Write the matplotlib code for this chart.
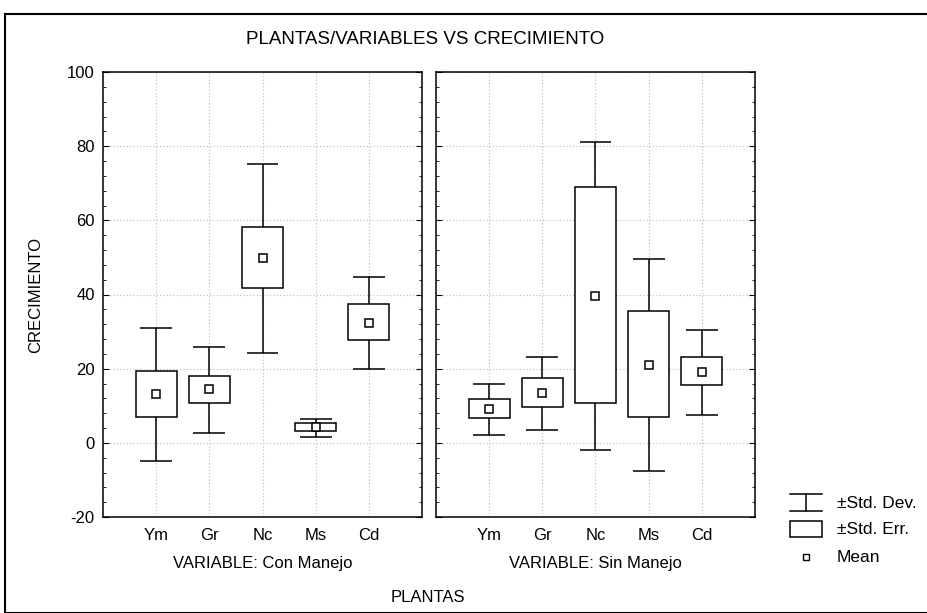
import matplotlib
matplotlib.use('Agg')
import matplotlib.pyplot as plt
from matplotlib.lines import Line2D
from matplotlib.patches import Rectangle

plt.rcParams['font.family'] = ['Liberation Sans', 'DejaVu Sans']
plt.rcParams['axes.unicode_minus'] = False

plantas = ['Ym', 'Gr', 'Nc', 'Ms', 'Cd']
variables = ['VARIABLE: Con Manejo', 'VARIABLE: Sin Manejo']

# media, +-error estandar, +-desviacion estandar
media_con = [13.1, 14.4, 49.8, 4.2, 32.4]
se_lo_con = [6.9, 10.7, 41.7, 3.1, 27.7]
se_hi_con = [19.4, 18.0, 58.3, 5.4, 37.5]
sd_lo_con = [-5.0, 2.6, 24.1, 1.7, 20.0]
sd_hi_con = [30.9, 25.8, 75.2, 6.4, 44.8]

media_sin = [9.0, 13.4, 39.6, 20.9, 19.1]
se_lo_sin = [6.6, 9.7, 10.7, 6.9, 15.5]
se_hi_sin = [11.9, 17.4, 69.1, 35.5, 23.1]
sd_lo_sin = [2.2, 3.5, -1.9, -7.7, 7.5]
sd_hi_sin = [15.8, 23.1, 81.2, 49.5, 30.5]

W, H = 928, 613
fig = plt.figure(figsize=(W / 100, H / 100), dpi=100)

# marco exterior
fig.patches.append(Rectangle((5 / W, 0), 1, (H - 14) / H, transform=fig.transFigure,
                             fill=False, edgecolor='black', linewidth=1.5))

paneles = [
    (103, variables[0], media_con, se_lo_con, se_hi_con, sd_lo_con, sd_hi_con),
    (436, variables[1], media_sin, se_lo_sin, se_hi_sin, sd_lo_sin, sd_hi_sin),
]
x = list(range(1, len(plantas) + 1))
axes = []
for left, nombre, media, se_lo, se_hi, sd_lo, sd_hi in paneles:
    ax = fig.add_axes([left / W, (H - 517) / H, 319 / W, 445 / H])
    axes.append(ax)
    ax.vlines(x, sd_lo, sd_hi, color='black', linewidth=1.1, zorder=2)
    ax.hlines(sd_lo, [v - 0.3 for v in x], [v + 0.3 for v in x], color='black', linewidth=1.1, zorder=2)
    ax.hlines(sd_hi, [v - 0.3 for v in x], [v + 0.3 for v in x], color='black', linewidth=1.1, zorder=2)
    ax.bar(x, [h - l for l, h in zip(se_lo, se_hi)], bottom=se_lo, width=0.77,
           facecolor='white', edgecolor='black', linewidth=1.1, zorder=3)
    ax.plot(x, media, linestyle='none', marker='s', markersize=6, markerfacecolor='white',
            markeredgecolor='black', markeredgewidth=1.1, zorder=4)
    ax.set_xlim(0, 6)
    ax.set_ylim(-20, 100)
    ax.set_xticks(x)
    ax.set_xticklabels(plantas, fontsize=12)
    ax.set_yticks(range(-20, 101, 20))
    ax.set_yticks(range(-20, 101, 4), minor=True)
    ax.grid(True, which='major', linestyle=(0, (1, 2)), color='#bbbbbb', linewidth=0.8)
    ax.tick_params(which='both', direction='in', left=True, right=True, top=False, bottom=False,
                   labelsize=12)
    ax.tick_params(axis='y', pad=6)
    ax.tick_params(axis='x', pad=8)
    ax.tick_params(which='major', length=4)
    ax.tick_params(which='minor', length=2)
    for s in ax.spines.values():
        s.set_linewidth(1.1)
    ax.set_xlabel(nombre, fontsize=12, labelpad=9)

axes[1].tick_params(labelleft=False)
axes[0].set_ylabel('CRECIMIENTO', fontsize=12, labelpad=17)

fig.text(425 / W, 1 - 40 / H, 'PLANTAS/VARIABLES VS CRECIMIENTO', ha='center', va='center', fontsize=13.5)
fig.text(428 / W, 1 - 598 / H, 'PLANTAS', ha='center', va='center', fontsize=12)

# leyenda
def fx(px):
    return px / W

def fy(py):
    return 1 - py / H

lw = 1.1
fig.lines.append(Line2D([fx(790), fx(822)], [fy(494), fy(494)], transform=fig.transFigure, color='black', linewidth=lw))
fig.lines.append(Line2D([fx(790), fx(822)], [fy(511), fy(511)], transform=fig.transFigure, color='black', linewidth=lw))
fig.lines.append(Line2D([fx(806), fx(806)], [fy(494), fy(511)], transform=fig.transFigure, color='black', linewidth=lw))
fig.patches.append(Rectangle((fx(790), fy(537)), fx(822) - fx(790), fy(521) - fy(537), transform=fig.transFigure,
                             fill=False, edgecolor='black', linewidth=lw))
fig.lines.append(Line2D([fx(806)], [fy(557)], transform=fig.transFigure, marker='s', markersize=5,
                        markerfacecolor='white', markeredgecolor='black', markeredgewidth=1.0, linestyle='none'))
fig.text(fx(837), fy(504), '±Std. Dev.', va='center', ha='left', fontsize=12.5)
fig.text(fx(837), fy(530), '±Std. Err.', va='center', ha='left', fontsize=12.5)
fig.text(fx(837), fy(557), 'Mean', va='center', ha='left', fontsize=12.5)

fig.savefig('out.png', dpi=100)
